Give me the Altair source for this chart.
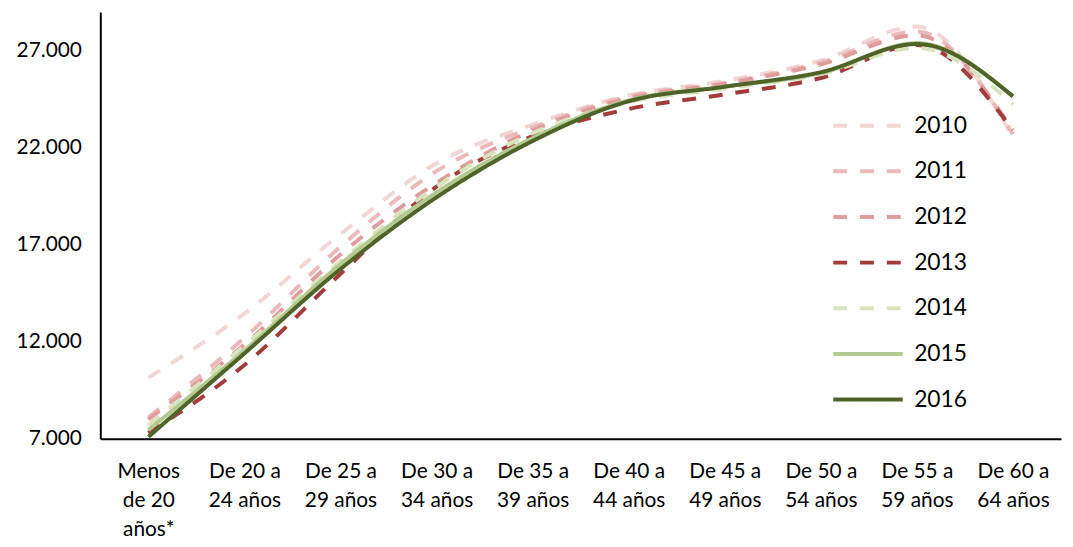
import altair as alt
import pandas as pd

categories = [
    "Menos\nde 20\naños*", "De 20 a\n24 años", "De 25 a\n29 años", "De 30 a\n34 años",
    "De 35 a\n39 años", "De 40 a\n44 años", "De 45 a\n49 años", "De 50 a\n54 años",
    "De 55 a\n59 años", "De 60 a\n64 años",
]
years = ["2010", "2011", "2012", "2013", "2014", "2015", "2016"]

v2010 = [10150, 13450, 17550, 21200, 23200, 24700, 25450, 26500, 28250, 22550]
v2011 = [8100, 12200, 16900, 20800, 23050, 24650, 25350, 26400, 28000, 22700]
v2012 = [8000, 11850, 16500, 20200, 22900, 24550, 25300, 26300, 27800, 22900]
v2013 = [7300, 10800, 15500, 20000, 22600, 24000, 24750, 25600, 27300, 22900]
v2014 = [7700, 11800, 16150, 20000, 22750, 24350, 25050, 25800, 27150, 24250]
v2015 = [7450, 11550, 16000, 19700, 22500, 24450, 25150, 25850, 27400, 24650]
v2016 = [7100, 11400, 15750, 19450, 22350, 24400, 25150, 25900, 27350, 24650]
series = [v2010, v2011, v2012, v2013, v2014, v2015, v2016]

colors = ["#f2d5d5", "#ebb9b9", "#e09c9c", "#a33b3b", "#d7e4bd", "#b2c98f", "#4f6228"]
dashes = [[14, 13], [14, 13], [14, 13], [14, 13], [14, 13], [1, 0], [1, 0]]
widths = [4, 4, 4, 4, 4, 5, 5]
y_ticks = [7000, 12000, 17000, 22000, 27000]

rows = []
for yr, vals in zip(years, series):
    for c, v in zip(categories, vals):
        rows.append({"grupo": c, "valor": v, "anio": yr})
df = pd.DataFrame(rows)

FONT = "Lato"

leg = alt.Legend(
    title=None, orient="none", legendX=734, legendY=103, direction="vertical",
    symbolType="M-1,0H9", symbolSize=196, labelFont=FONT, labelFontSize=23,
    labelColor="black", labelOffset=63, rowPadding=22, padding=0, labelLimit=0,
)

chart = alt.Chart(df).mark_line(interpolate="monotone").encode(
    x=alt.X("grupo:N", sort=categories,
            scale=alt.Scale(type="point", padding=0.5),
            axis=alt.Axis(title=None, labelAngle=0, ticks=False, domainColor="black",
                          domainWidth=2, labelFont=FONT, labelFontSize=21,
                          labelColor="black", labelPadding=22, labelLineHeight=29,
                          labelExpr="split(datum.label, '\\n')", labelLimit=0)),
    y=alt.Y("valor:Q", scale=alt.Scale(domain=[7000, 29000], nice=False, zero=False),
            axis=alt.Axis(title=None, values=y_ticks, ticks=False, grid=False,
                          domainColor="black", domainWidth=2, labelFont=FONT,
                          labelFontSize=21, labelColor="black", labelPadding=19,
                          labelExpr="replace(format(datum.value, ','), ',', '.')")),
    color=alt.Color("anio:N", scale=alt.Scale(domain=years, range=colors), legend=leg),
    strokeDash=alt.StrokeDash("anio:N", scale=alt.Scale(domain=years, range=dashes), legend=leg),
    strokeWidth=alt.StrokeWidth("anio:N", scale=alt.Scale(domain=years, range=widths), legend=leg),
).properties(
    width=968, height=430,
    autosize=alt.AutoSizeParams(type="none"),
    padding={"left": 93, "top": 2, "right": 4, "bottom": 107},
).configure_view(stroke=None)

chart.save("out.html", embed_options={"renderer": "svg", "actions": False})
